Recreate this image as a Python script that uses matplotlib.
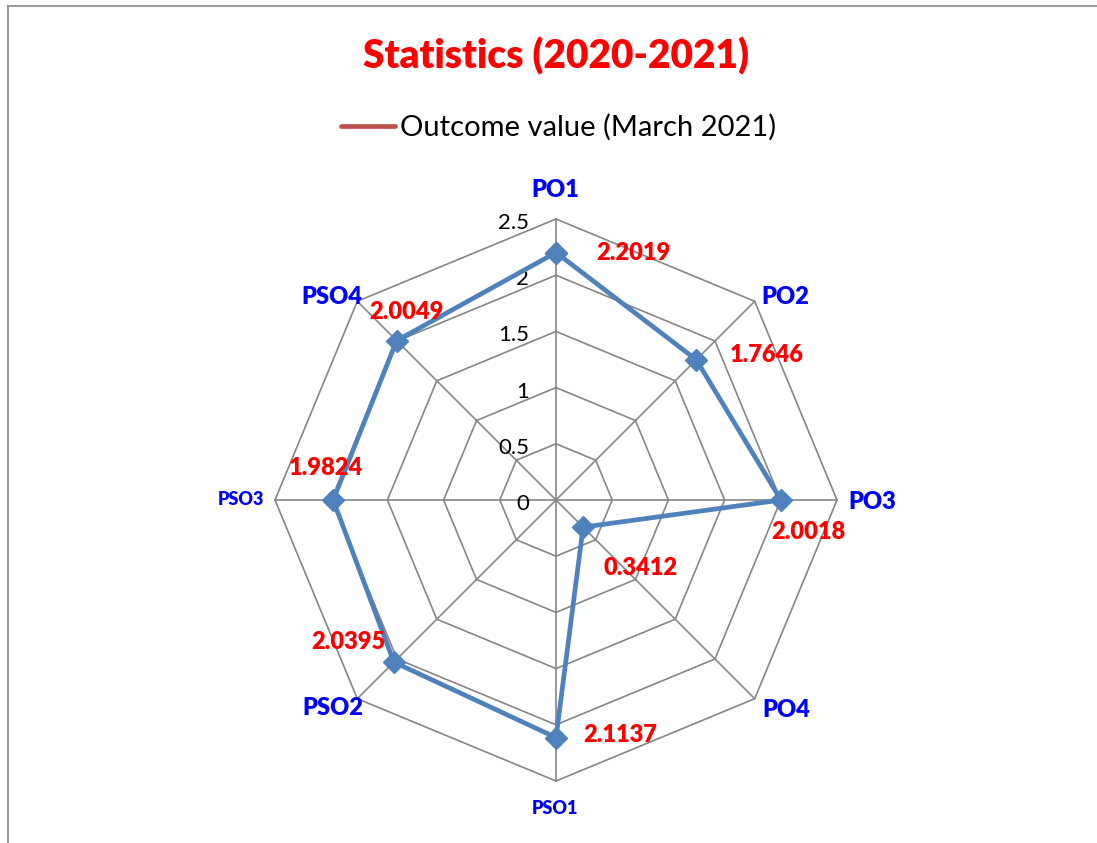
import numpy as np
import matplotlib
matplotlib.use('Agg')
import matplotlib.pyplot as plt
from matplotlib.lines import Line2D

plt.rcParams['font.family'] = ['Lato', 'DejaVu Sans']

# chart data
categories = ['PO1', 'PO2', 'PO3', 'PO4', 'PSO1', 'PSO2', 'PSO3', 'PSO4']
values = [2.2019, 1.7646, 2.0018, 0.3412, 2.1137, 2.0395, 1.9824, 2.0049]
ticks = [0, 0.5, 1, 1.5, 2, 2.5]
tick_labels = ['0', '0.5', '1', '1.5', '2', '2.5']
title = 'Statistics (2020-2021)'
series_name = 'Outcome value (March 2021)'

# label placement (pixel offsets) and sizes
value_offsets = [(77, 0), (70, -5), (27, 32), (57, 41), (64, -3), (-46, -20), (-7, -32), (10, -29)]
cat_offsets = [(-1, -29), (31, -4), (35, 2), (32, 11), (-1, 27), (-24, 9), (-34, -1), (-25, -4)]
cat_sizes = [17, 17, 17, 17, 13, 17, 13, 17]

W, H = 1097, 843
cx, cy = 556, 500          # centre of the web in pixels (from top-left)
px_per_unit = 281 / 2.5

fig = plt.figure(figsize=(W / 100, H / 100), dpi=100)
ax = fig.add_axes([0, 0, 1, 1])
ax.set_xlim(-cx / px_per_unit, (W - cx) / px_per_unit)
ax.set_ylim(-(H - cy) / px_per_unit, cy / px_per_unit)
ax.axis('off')

n = len(categories)
angles = np.deg2rad(90 - 360 / n * np.arange(n))
rmax = ticks[-1]
grid_col = '#868686'

# rings and spokes
for t in ticks[1:]:
    xs = np.append(t * np.cos(angles), t * np.cos(angles[0]))
    ys = np.append(t * np.sin(angles), t * np.sin(angles[0]))
    ax.plot(xs, ys, color=grid_col, lw=1.2, zorder=1)
for a in angles:
    ax.plot([0, rmax * np.cos(a)], [0, rmax * np.sin(a)], color=grid_col, lw=1.2, zorder=1)

# tick labels up the top spoke
for t, lab in zip(ticks, tick_labels):
    ax.annotate(lab, (0, t), xytext=(-27, -4), textcoords='offset pixels',
                ha='right', va='center', fontsize=16, color='black')

# series
v = np.array(values)
xs = v * np.cos(angles)
ys = v * np.sin(angles)
ax.plot(np.append(xs, xs[0]), np.append(ys, ys[0]), color='#4F81BD', lw=3.4,
        marker='D', markersize=11, zorder=3)

# value labels
for x, y, val, off in zip(xs, ys, values, value_offsets):
    ax.annotate('%.4f' % val, (x, y), xytext=(off[0], -off[1]), textcoords='offset pixels',
                ha='center', va='center', fontsize=17, fontweight='heavy', color='red', zorder=4)

# category labels
for a, cat, off, fs in zip(angles, categories, cat_offsets, cat_sizes):
    ax.annotate(cat, (rmax * np.cos(a), rmax * np.sin(a)), xytext=(off[0], -off[1]),
                textcoords='offset pixels', ha='center', va='center',
                fontsize=fs, fontweight='heavy', color='#0000FF')

# title and legend
fig.text(556 / W, 1 - 56 / H, title, ha='center', va='center',
         fontsize=28, fontweight='heavy', color='red')
fig.add_artist(Line2D([341 / W, 395 / W], [1 - 126 / H, 1 - 126 / H], color='#C0504D',
                      lw=3.4, solid_capstyle='round'))
fig.text(400 / W, 1 - 127 / H, series_name, ha='left', va='center', fontsize=21, color='black')

# chart frame (left and top edges visible)
fig.add_artist(Line2D([8 / W, 8 / W], [0, 1 - 6 / H], color='#888888', lw=1.2))
fig.add_artist(Line2D([8 / W, 1], [1 - 6 / H, 1 - 6 / H], color='#888888', lw=1.2))

fig.savefig('out.png', dpi=100)
